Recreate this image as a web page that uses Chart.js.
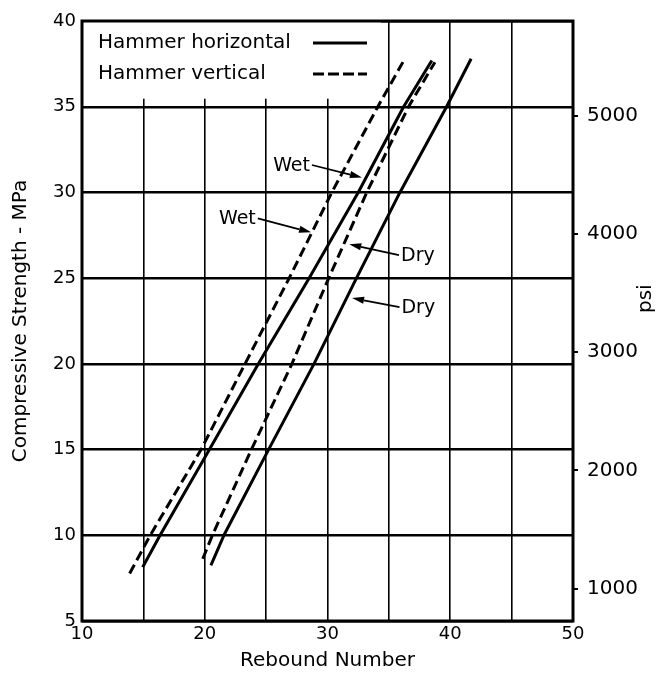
<!DOCTYPE html>
<html>
<head>
<meta charset="utf-8">
<script src="https://cdn.jsdelivr.net/npm/chart.js@4.4.1/dist/chart.umd.min.js"></script>
<style>
  html, body { margin: 0; padding: 0; background: #fff; }
  #wrap { width: 658px; height: 678px; }
</style>
</head>
<body>
<div id="wrap"><canvas id="c" width="658" height="678"></canvas></div>
<script>
// Rebound number (x) against compressive strength in MPa (y) for each curve
const horizWetRebound  = [14.94, 16.36, 20.38, 24.37, 28.5, 32.5, 36.2, 38.5];
const horizWetStrength = [8.14, 10, 15, 20, 25, 30, 35, 37.7];

const vertWetRebound   = [13.88, 15.56, 19.7, 23.28, 26.88, 30.35, 34.1, 36.3];
const vertWetStrength  = [7.77, 10, 15, 20, 25, 30, 35, 37.8];

const vertDryRebound   = [19.84, 20.62, 23.8, 27.1, 30.1, 33.2, 36.6, 38.75];
const vertDryStrength  = [8.63, 10, 15, 20, 25, 30, 35, 37.6];

const horizDryRebound  = [20.5, 21.56, 25.2, 28.9, 32.36, 35.9, 39.7, 41.7];
const horizDryStrength = [8.24, 10, 15, 20, 25, 30, 35, 37.8];

// Axis ticks
const reboundLabels = [10, 20, 30, 40, 50];
const mpaTicks = [5, 10, 15, 20, 25, 30, 35, 40];
const psiTicks = [1000, 2000, 3000, 4000, 5000];
const PSI_PER_MPA = 145.038;

// Key entries
const keyLabels = ['Hammer horizontal', 'Hammer vertical'];

const FONT = '"DejaVu Sans", "Liberation Sans", sans-serif';
const DASH = [10, 5];

function toPoints(xs, ys) {
  return xs.map((x, i) => ({ x: x, y: ys[i] }));
}

function curve(label, xs, ys, dashed) {
  return {
    label: label,
    data: toPoints(xs, ys),
    showLine: true,
    borderColor: '#000',
    borderWidth: 3,
    borderDash: dashed ? DASH : [],
    borderCapStyle: 'butt',
    borderJoinStyle: 'round',
    pointRadius: 0,
    pointHoverRadius: 0,
    tension: 0,
    fill: false
  };
}

// Callout texts with arrows; coordinates are in axis units (rebound, MPa)
const callouts = [
  { text: 'Wet', at: [27.07, 31.6], tip: [32.8, 30.87], side: 'right' },
  { text: 'Wet', at: [22.66, 28.49], tip: [28.66, 27.67], side: 'right' },
  { text: 'Dry', at: [37.36, 26.34], tip: [31.77, 26.98], side: 'left' },
  { text: 'Dry', at: [37.4, 23.31], tip: [32.0, 23.84], side: 'left' }
];

function arrow(ctx, x0, y0, x1, y1) {
  const ang = Math.atan2(y1 - y0, x1 - x0);
  const len = 12, half = 3.6;
  const bx = x1 - Math.cos(ang) * len, by = y1 - Math.sin(ang) * len;
  ctx.beginPath();
  ctx.moveTo(x0, y0);
  ctx.lineTo(bx, by);
  ctx.lineWidth = 1.8;
  ctx.stroke();
  ctx.beginPath();
  ctx.moveTo(x1, y1);
  ctx.lineTo(bx + Math.sin(ang) * half, by - Math.cos(ang) * half);
  ctx.lineTo(bx - Math.sin(ang) * half, by + Math.cos(ang) * half);
  ctx.closePath();
  ctx.fill();
}

const decorations = {
  id: 'decorations',
  beforeDatasetsDraw(chart) {
    const { ctx, chartArea: a, scales } = chart;
    ctx.save();
    // clear panel behind the key
    const keyRight = scales.x.getPixelForValue(35) - 8;
    const keyBottom = scales.y.getPixelForValue(35) - 8;
    ctx.fillStyle = '#fff';
    ctx.fillRect(a.left, a.top, keyRight - a.left, keyBottom - a.top);

    // plot frame
    ctx.strokeStyle = '#000';
    ctx.lineWidth = 3;
    ctx.strokeRect(a.left, a.top, a.right - a.left, a.bottom - a.top);

    // key
    ctx.fillStyle = '#000';
    ctx.font = '20px ' + FONT;
    ctx.textAlign = 'left';
    ctx.textBaseline = 'middle';
    const rows = [a.top + 22, a.top + 53];
    keyLabels.forEach((t, i) => {
      ctx.fillText(t, a.left + 16, rows[i]);
      ctx.beginPath();
      ctx.setLineDash(i === 0 ? [] : [11, 4]);
      ctx.lineWidth = 3;
      ctx.moveTo(a.left + 231, rows[i]);
      ctx.lineTo(a.left + 285, rows[i]);
      ctx.stroke();
    });
    ctx.setLineDash([]);
    ctx.restore();
  },
  afterDatasetsDraw(chart) {
    const { ctx, scales } = chart;
    ctx.save();
    ctx.fillStyle = '#000';
    ctx.strokeStyle = '#000';
    ctx.font = '19px ' + FONT;
    ctx.textAlign = 'center';
    ctx.textBaseline = 'middle';
    callouts.forEach(c => {
      const tx = scales.x.getPixelForValue(c.at[0]);
      const ty = scales.y.getPixelForValue(c.at[1]);
      ctx.fillText(c.text, tx, ty + 1);
      const w = ctx.measureText(c.text).width;
      const sx = c.side === 'right' ? tx + w / 2 + 2 : tx - w / 2 - 2;
      const px = scales.x.getPixelForValue(c.tip[0]);
      const py = scales.y.getPixelForValue(c.tip[1]);
      arrow(ctx, sx, ty, px, py);
    });

    // right-hand axis title
    ctx.font = '20px ' + FONT;
    ctx.translate(646, scales.y.getPixelForValue(23.8));
    ctx.rotate(-Math.PI / 2);
    ctx.fillText('psi', 0, 0);
    ctx.restore();
  }
};

new Chart(document.getElementById('c'), {
  type: 'scatter',
  data: {
    datasets: [
      curve('Hammer horizontal, wet', horizWetRebound, horizWetStrength, false),
      curve('Hammer vertical, wet', vertWetRebound, vertWetStrength, true),
      curve('Hammer vertical, dry', vertDryRebound, vertDryStrength, true),
      curve('Hammer horizontal, dry', horizDryRebound, horizDryStrength, false)
    ]
  },
  options: {
    responsive: false,
    animation: false,
    devicePixelRatio: 1,
    layout: { padding: { top: 21, left: 0, right: 0, bottom: 0 } },
    plugins: {
      legend: { display: false },
      tooltip: { enabled: false }
    },
    scales: {
      x: {
        type: 'linear',
        position: 'bottom',
        min: 10,
        max: 50,
        afterFit(s) { s.height = 57; },
        ticks: {
          stepSize: 5,
          autoSkip: false,
          maxRotation: 0,
          padding: 3,
          color: '#000',
          font: { family: FONT, size: 18 },
          callback: v => (reboundLabels.includes(v) ? String(v) : '')
        },
        grid: { color: '#000', lineWidth: 1.6, drawTicks: false },
        border: { display: false },
        title: {
          display: true,
          text: 'Rebound Number',
          color: '#000',
          font: { family: FONT, size: 20, lineHeight: 1.2 },
          padding: { top: 0, bottom: 5 }
        }
      },
      y: {
        type: 'linear',
        position: 'left',
        min: 5,
        max: 40,
        afterFit(s) { s.width = 82; },
        afterBuildTicks(s) { s.ticks = mpaTicks.map(v => ({ value: v })); },
        ticks: {
          padding: 6,
          color: '#000',
          font: { family: FONT, size: 18 },
          callback: v => String(v)
        },
        grid: { color: '#000', lineWidth: 2.4, drawTicks: false },
        border: { display: false },
        title: {
          display: true,
          text: 'Compressive Strength - MPa',
          color: '#000',
          font: { family: FONT, size: 20, lineHeight: 1.2 },
          padding: { top: 9, bottom: 0 }
        }
      },
      y2: {
        type: 'linear',
        position: 'right',
        min: 5 * PSI_PER_MPA,
        max: 40 * PSI_PER_MPA,
        afterFit(s) { s.width = 85; },
        afterBuildTicks(s) { s.ticks = psiTicks.map(v => ({ value: v })); },
        ticks: {
          padding: 9,
          color: '#000',
          font: { family: FONT, size: 20 },
          callback: v => String(v)
        },
        grid: { color: '#000', lineWidth: 2, drawOnChartArea: false, drawTicks: true, tickLength: 5 },
        border: { display: false }
      }
    }
  },
  plugins: [decorations]
});
</script>
</body>
</html>
